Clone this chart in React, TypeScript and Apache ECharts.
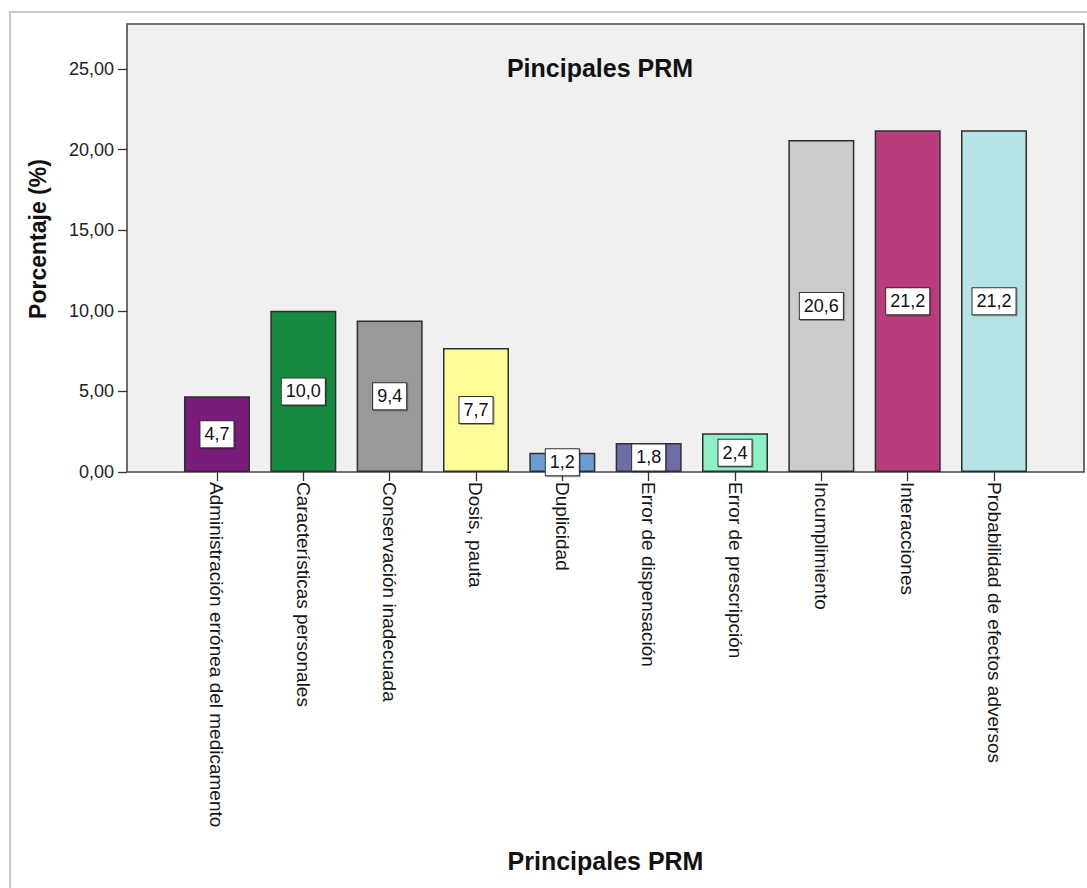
import React, { useEffect, useRef } from "react";
import * as echarts from "echarts";

const categories = [
  "Administración errónea del medicamento",
  "Características personales",
  "Conservación inadecuada",
  "Dosis, pauta",
  "Duplicidad",
  "Error de dispensación",
  "Error de prescripción",
  "Incumplimiento",
  "Interacciones",
  "Probabilidad de efectos adversos",
];

const percentages = [4.7, 10.0, 9.4, 7.7, 1.2, 1.8, 2.4, 20.6, 21.2, 21.2];

const barColors = [
  "#7a1c7a",
  "#168a3e",
  "#999999",
  "#fdfc99",
  "#6b9dd3",
  "#6e6da6",
  "#8ff0c4",
  "#cccccc",
  "#bb3c7c",
  "#b4e4e6",
];

const yTicks = [0, 5, 10, 15, 20, 25];

const FONT = "'Liberation Sans', Arial, sans-serif";
const fmt = (v: number, d: number) => v.toFixed(d).replace(".", ",");

export default function App() {
  const ref = useRef<HTMLDivElement>(null);

  useEffect(() => {
    if (!ref.current) return;
    const chart = echarts.init(ref.current, null, { renderer: "svg" });

    // plot frame (wider than the category grid, as in SPSS output)
    const frameL = 127;
    const frameT = 24;
    const frameR = 1084;
    const frameB = 472;

    chart.setOption({
      animation: false,
      backgroundColor: "#ffffff",
      textStyle: { fontFamily: FONT },
      graphic: [
        {
          type: "rect",
          z: -20,
          silent: true,
          shape: { x: 10, y: 12, width: 1100, height: 900 },
          style: { fill: "#ffffff", stroke: "#c8c8c8", lineWidth: 2 },
        },
        {
          type: "rect",
          z: -10,
          silent: true,
          shape: {
            x: frameL,
            y: frameT,
            width: frameR - frameL,
            height: frameB - frameT,
          },
          style: { fill: "#f0f0f0", stroke: "#4a4a4a", lineWidth: 1.6 },
        },
        {
          type: "text",
          z: 10,
          x: 600,
          y: 68,
          style: {
            text: "Pincipales PRM",
            font: `bold 25px ${FONT}`,
            fill: "#111111",
            textAlign: "center",
            textVerticalAlign: "middle",
          },
        },
      ],
      grid: {
        left: 173.8,
        right: 49.8,
        top: frameT,
        bottom: 888 - frameB,
        containLabel: false,
      },
      xAxis: {
        type: "category",
        data: categories,
        name: "Principales PRM",
        nameLocation: "middle",
        nameGap: 376,
        nameTextStyle: {
          fontFamily: FONT,
          fontSize: 25,
          fontWeight: "bold",
          color: "#111111",
        },
        axisLine: { show: false },
        axisTick: {
          show: true,
          alignWithLabel: true,
          length: 9,
          lineStyle: { color: "#333333", width: 1.3 },
        },
        axisLabel: {
          rotate: -90,
          margin: 10,
          fontSize: 19,
          color: "#151515",
          fontFamily: FONT,
          interval: 0,
        },
      },
      yAxis: {
        type: "value",
        min: 0,
        max: 27.8,
        offset: 46.8,
        name: "Porcentaje (%)",
        nameLocation: "middle",
        nameGap: 78,
        nameTextStyle: {
          fontFamily: FONT,
          fontSize: 23,
          fontWeight: "bold",
          color: "#111111",
          padding: [0, 0, 0, 18],
        },
        splitLine: { show: false },
        axisLine: { show: false },
        axisTick: {
          show: true,
          length: 9,
          customValues: yTicks,
          lineStyle: { color: "#333333", width: 1.3 },
        },
        axisLabel: {
          customValues: yTicks,
          margin: 13,
          fontSize: 18,
          color: "#222222",
          fontFamily: FONT,
          formatter: (v: number) => fmt(v, 2),
        },
      },
      series: [
        {
          type: "bar",
          barWidth: 66,
          data: percentages.map((v, i) => ({
            value: v,
            itemStyle: {
              color: barColors[i],
              borderColor: "#2e2e2e",
              borderWidth: 1.5,
            },
          })),
          label: {
            show: true,
            position: "inside",
            formatter: (p: any) => fmt(p.value, 1),
            fontSize: 18,
            fontFamily: FONT,
            color: "#111111",
            backgroundColor: "#ffffff",
            borderColor: "#333333",
            borderWidth: 1,
            padding: [5, 4, 3, 4],
            shadowColor: "rgba(0,0,0,0.35)",
            shadowOffsetX: 1,
            shadowOffsetY: 1,
          },
        },
      ],
    });

    return () => chart.dispose();
  }, []);

  return (
    <div
      ref={ref}
      style={{
        position: "fixed",
        left: 0,
        top: 0,
        width: 1087,
        height: 888,
      }}
    />
  );
}
